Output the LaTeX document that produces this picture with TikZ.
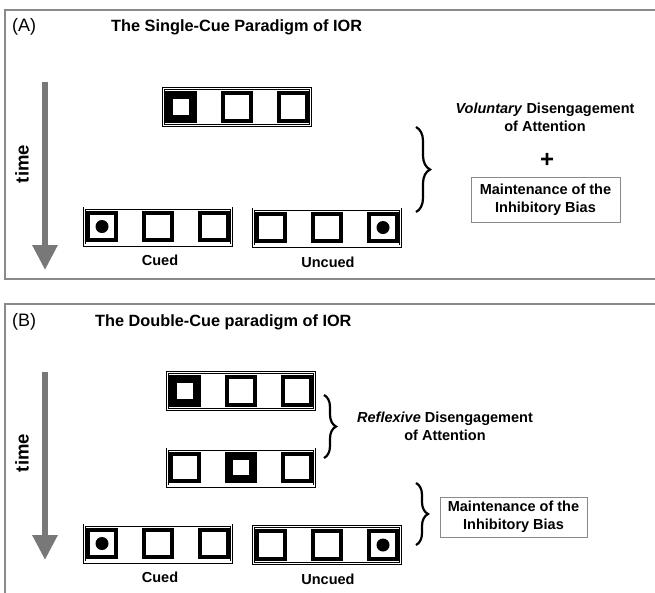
\documentclass[tikz,border=0pt]{standalone}
\usepackage{fontspec}
\setmainfont{Liberation Sans}
\usetikzlibrary{arrows.meta,decorations.pathreplacing,calc}
\definecolor{framegray}{HTML}{8A8A8A}
\definecolor{arrowgray}{HTML}{787878}

\newcommand{\txt}{\fontsize{14.5}{18}\selectfont\bfseries}
\newcommand{\ttl}{\fontsize{16.3}{19}\selectfont\bfseries}

% one row of three placeholders: name, x, y, cued box, target box
\newcommand{\stimrow}[5]{%
  \node[rowbox] (#1) at (#2,#3) {};
  \foreach \i in {1,2,3}{
    \ifnum\i=#4
      \node[cuebox] (#1-\i) at ($(#1)+({(\i-2)*56},0)$) {};
    \else
      \node[placebox] (#1-\i) at ($(#1)+({(\i-2)*56},0)$) {};
    \fi
    \ifnum\i=#5
      \node[target] (#1-dot) at (#1-\i) {};
    \fi}
}

\begin{document}
\begin{tikzpicture}[x=1pt,y=-1pt,
  rowbox/.style={draw, double, line width=0.6pt, double distance=1.8pt,
    minimum width=147pt, minimum height=37pt, inner sep=0pt},
  placebox/.style={draw, line width=4pt, minimum size=27.5pt, inner sep=0pt},
  cuebox/.style={draw, line width=8pt, minimum size=23.5pt, inner sep=0pt},
  target/.style={circle, fill, minimum size=13pt, inner sep=0pt},
  label/.style={font=\txt, inner sep=0pt},
  timelabel/.style={font=\fontsize{18.5}{20}\selectfont\bfseries, inner sep=0pt, rotate=90},
  infobox/.style={draw=framegray, line width=0.8pt, font=\txt, align=center,
    inner sep=0pt},
  curly/.style={decorate, decoration={brace, amplitude=14pt}, line width=2.2pt},
  timeline/.style={draw=arrowgray, line width=6pt,
    -{Triangle[width=24pt,length=25pt]}}]
\useasboundingbox (0,0) rectangle (655,592);
\clip (0,0) rectangle (655,592);

%draw panel frames
\draw[framegray, line width=1.5pt] (5,10) rectangle (700,279);
\draw[framegray, line width=1.5pt] (5,304) rectangle (700,650);

%panel A
\node[font=\fontsize{18}{20}\selectfont, anchor=west, inner sep=0pt] (tagA) at (12,27) {(A)};
\node[font=\ttl, anchor=west, inner sep=0pt] (titleA) at (111,27) {The Single-Cue Paradigm of IOR};

\coordinate (timeAtop) at (45,82);
\coordinate (timeAend) at (45,270);
\draw[timeline] (timeAtop) -- (timeAend);
\node[timelabel] (timeA) at (22,164) {time};

\stimrow{cueA}{237}{107}{1}{0}
\stimrow{cuedA}{158}{226.5}{0}{1}
\stimrow{uncuedA}{327}{227.5}{0}{3}
\node[label] (cuedlabA) at (160,260) {Cued};
\node[label] (uncuedlabA) at (328,262) {Uncued};

\coordinate (braceAtop) at (416,127);
\coordinate (braceAbot) at (416,212);
\draw[curly] (braceAtop) -- (braceAbot);
\node[label, align=center] (volA) at (545,117.5) {\textit{Voluntary} Disengagement\\of Attention};
\node[font=\fontsize{24}{24}\selectfont\bfseries, inner sep=0pt] (plusA) at (547,160) {+};
\node[infobox, minimum width=149pt, minimum height=45pt] (maintA) at (545.5,199.5)
  {Maintenance of the\\Inhibitory Bias};

%panel B
\node[font=\fontsize{18}{20}\selectfont, anchor=west, inner sep=0pt] (tagB) at (12,322) {(B)};
\node[font=\ttl, anchor=west, inner sep=0pt] (titleB) at (95,322) {The Double-Cue paradigm of IOR};

\coordinate (timeBtop) at (45,372);
\coordinate (timeBend) at (45,560);
\draw[timeline] (timeBtop) -- (timeBend);
\node[timelabel] (timeB) at (22,453) {time};

\stimrow{cueB}{241}{391}{1}{0}
\stimrow{recueB}{241}{467.5}{2}{0}
\stimrow{cuedB}{158}{543.5}{0}{1}
\stimrow{uncuedB}{327}{545}{0}{3}
\node[label] (cuedlabB) at (160,577) {Cued};
\node[label] (uncuedlabB) at (328,579) {Uncued};

\coordinate (braceBtop) at (324,395);
\coordinate (braceBbot) at (324,458);
\draw[curly, decoration={amplitude=12pt}] (braceBtop) -- (braceBbot);
\node[label, align=center] (refB) at (445,426) {\textit{Reflexive} Disengagement\\of Attention};

\coordinate (braceCtop) at (416,483);
\coordinate (braceCbot) at (416,545);
\draw[curly, decoration={amplitude=12pt}] (braceCtop) -- (braceCbot);
\node[infobox, minimum width=147pt, minimum height=40pt] (maintB) at (513.5,517)
  {Maintenance of the\\Inhibitory Bias};
\end{tikzpicture}
\end{document}
